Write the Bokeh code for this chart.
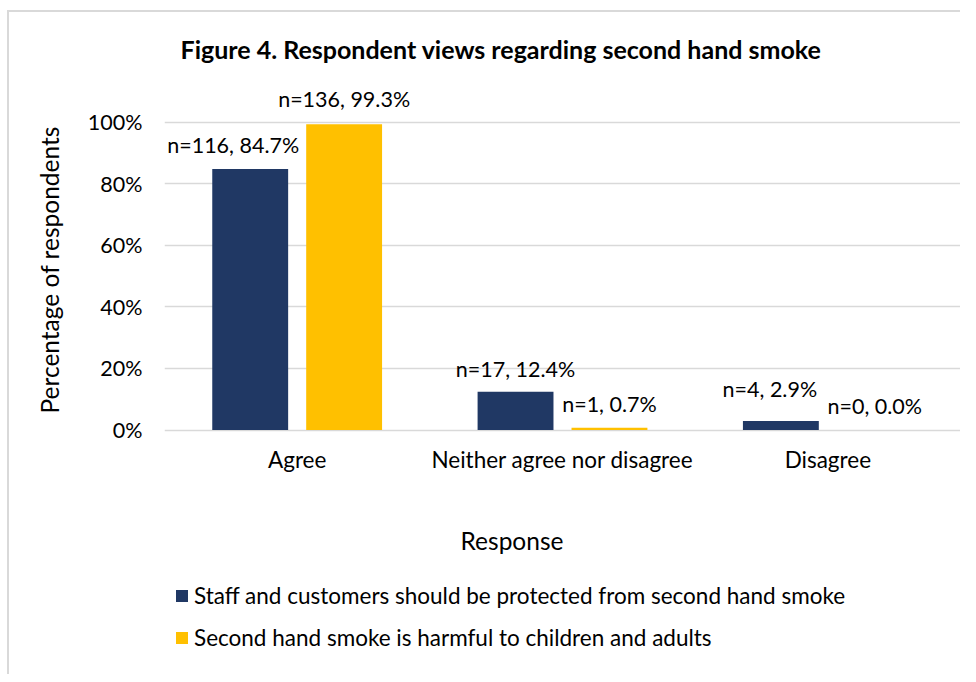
from bokeh.plotting import figure
from bokeh.layouts import column
from bokeh.models import (ColumnDataSource, FactorRange, Range1d, FixedTicker,
                          LabelSet, Label, Legend, LegendItem, NumeralTickFormatter, Title)
from bokeh.transform import dodge
from bokeh.core.properties import value
from bokeh.embed import file_html
from bokeh.resources import INLINE

# ---------------- data ----------------
categories = ["Agree", "Neither agree nor disagree", "Disagree"]
series_names = [
    "Staff and customers should be protected from second hand smoke",
    "Second hand smoke is harmful to children and adults",
]
protected_pct = [0.847, 0.124, 0.029]
protected_n = [116, 17, 4]
harmful_pct = [0.993, 0.007, 0.0]
harmful_n = [136, 1, 0]
y_ticks = [0.0, 0.2, 0.4, 0.6, 0.8, 1.0]
title_text = "Figure 4. Respondent views regarding second hand smoke"
x_title = "Response"
y_title = "Percentage of respondents"

# ---------------- style ----------------
FONT = "Lato"
BLUE = "#203864"
YELLOW = "#FFC000"
GRID = "#d9d9d9"
TXT = "#000000"
OFFSET = 0.177
BAR_W = 0.286
# label nudges (pixels) to mimic manually positioned data labels
prot_dx = [-17, 0, -11]
prot_dy = [24, 23, 32]
harm_dx = [0, 0, 0]
harm_dy = [25, 24, 24]

# chart-area border offsets (px)
BX = 9   # left margin + border
BY = 12  # top margin + border


def fmt(n, pct):
    return f"n={n}, {pct * 100:.1f}%"


src_p = ColumnDataSource(dict(
    cat=categories, val=protected_pct,
    lbl=[fmt(n, v) for n, v in zip(protected_n, protected_pct)],
    dx=prot_dx, dy=prot_dy))
src_h = ColumnDataSource(dict(
    cat=categories, val=harmful_pct,
    lbl=[fmt(n, v) for n, v in zip(harmful_n, harmful_pct)],
    dx=harm_dx, dy=harm_dy))

# ---------------- main chart ----------------
p = figure(x_range=FactorRange(*categories, range_padding=0),
           y_range=Range1d(-0.01136, 1.14773),
           width=960 - BX, height=480 - BY, output_backend="svg", toolbar_location=None,
           title=title_text,
           min_border_left=164 - BX, min_border_right=0,
           min_border_top=76 - BY, min_border_bottom=47)
p.outline_line_color = None
p.background_fill_color = "white"
p.border_fill_color = "white"

p.title.align = "left"
p.title.offset = 16
p.title.standoff = 25
p.title.text_font = FONT
p.title.text_font_style = "bold"
p.title.text_font_size = "25px"
p.title.text_color = TXT

r1 = p.vbar(x=dodge("cat", -OFFSET, range=p.x_range), top="val", bottom=0,
            width=BAR_W, source=src_p, fill_color=BLUE, line_color=None)
r2 = p.vbar(x=dodge("cat", OFFSET, range=p.x_range), top="val", bottom=0,
            width=BAR_W, source=src_h, fill_color=YELLOW, line_color=None)

for src, off in ((src_p, -OFFSET), (src_h, OFFSET)):
    p.add_layout(LabelSet(x=dodge("cat", off, range=p.x_range), y="val", text="lbl",
                          x_offset="dx", y_offset="dy", source=src,
                          text_align="center", text_baseline="middle",
                          text_font=value(FONT), text_font_size=value("21.5px"),
                          text_color=TXT))

p.xgrid.visible = False
p.ygrid.ticker = FixedTicker(ticks=y_ticks)
p.ygrid.grid_line_color = GRID
p.ygrid.grid_line_width = 1.5

p.yaxis.ticker = FixedTicker(ticks=y_ticks)
p.yaxis.formatter = NumeralTickFormatter(format="0%")
p.yaxis.axis_line_color = None
p.yaxis.major_tick_line_color = None
p.yaxis.minor_tick_line_color = None
p.yaxis.major_tick_out = 0
p.yaxis.major_label_standoff = 22
p.yaxis.major_label_text_font = FONT
p.yaxis.major_label_text_font_size = "21.5px"
p.yaxis.major_label_text_color = TXT

p.xaxis.axis_line_color = None
p.xaxis.major_tick_line_color = None
p.xaxis.minor_tick_line_color = None
p.xaxis.major_tick_out = 0
p.xaxis.major_label_standoff = 12
p.xaxis.major_label_text_font = FONT
p.xaxis.major_label_text_font_size = "22.5px"
p.xaxis.major_label_text_color = TXT

# y-axis title, positioned as in the reference
p.add_layout(Title(text=y_title, align="left", offset=20, standoff=41,
                   text_font=FONT, text_font_style="normal",
                   text_font_size="24.5px", text_color=TXT), "left")

# ---------------- x title + legend strip (frame aligned with the chart) ----------------
STRIP_H = 194
FRAME_W = 796
p2 = figure(width=960 - BX, height=STRIP_H, output_backend="svg", toolbar_location=None,
            x_range=Range1d(0, FRAME_W), y_range=Range1d(0, STRIP_H),
            x_axis_type=None, y_axis_type=None,
            min_border_left=164 - BX, min_border_right=0,
            min_border_top=0, min_border_bottom=0)
p2.outline_line_color = None
p2.xgrid.visible = False
p2.ygrid.visible = False

p2.add_layout(Label(x=347.5, y=STRIP_H - 59.5, text=x_title, text_align="center",
                    text_baseline="alphabetic", text_font=FONT,
                    text_font_size="24.5px", text_color=TXT))

lg1 = p2.vbar(x=[-100], top=[0], width=1, fill_color=BLUE, line_color=None)
lg2 = p2.vbar(x=[-100], top=[0], width=1, fill_color=YELLOW, line_color=None)
legend = Legend(items=[LegendItem(label=series_names[0], renderers=[lg1]),
                       LegendItem(label=series_names[1], renderers=[lg2])],
                location=(10, 23.5), orientation="vertical",
                glyph_width=15, glyph_height=15, label_standoff=5,
                spacing=15, padding=0, margin=0,
                border_line_color=None, background_fill_alpha=0,
                label_text_font=FONT, label_text_font_size="22.5px",
                label_text_color=TXT)
p2.add_layout(legend)

layout = column(p, p2, spacing=0,
                styles={"margin-left": "7px", "margin-top": "10px",
                        "box-sizing": "content-box",
                        "border-left": "2px solid #d9d9d9",
                        "border-top": "2px solid #d9d9d9"})
open("out.html", "w").write(file_html(layout, INLINE))
